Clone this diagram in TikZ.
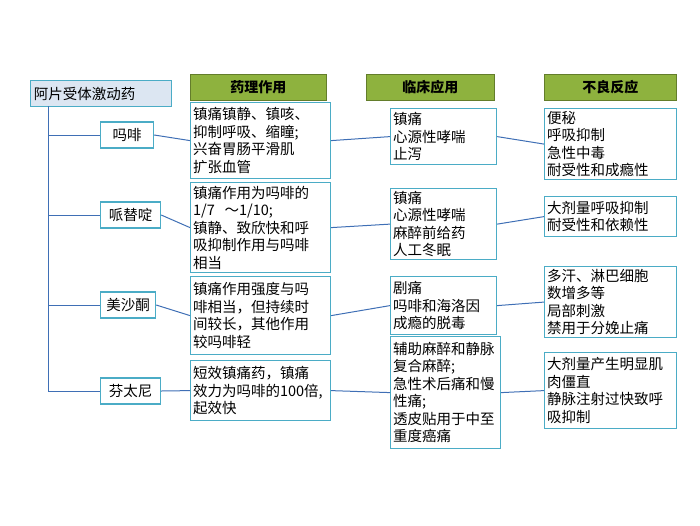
\documentclass[tikz,border=0pt]{standalone}
\usepackage{fontspec}
\newfontfamily\cjk{Noto Sans CJK SC}
\usetikzlibrary{positioning}
\definecolor{boxline}{HTML}{4BACC6}
\definecolor{linkline}{HTML}{3F6FB5}
\definecolor{headfill}{HTML}{8EB23E}
\definecolor{rootfill}{HTML}{DCE6F2}
\begin{document}
\begin{tikzpicture}[x=1pt, y=-1pt,
    every node/.style={font=\cjk\fontsize{14.5}{17.5}\selectfont},
    cellbox/.style={draw=boxline, line width=1.2pt, fill=white, anchor=north west,
        align=left, inner sep=2.5pt, minimum height=#1},
    cellbox/.default=20pt,
    head/.style={draw=headfill!70!black, fill=headfill, line width=0.8pt,
        font=\cjk\bfseries\fontsize{14}{17}\selectfont, minimum height=26pt, anchor=north west},
    drug/.style={draw=boxline, line width=1.2pt, fill=white, minimum height=26pt, anchor=west},
    link/.style={draw=linkline, line width=1pt}
]
\useasboundingbox (0,0) rectangle (700,525);

% root and headers
\node[draw=boxline, line width=1.2pt, fill=rootfill, anchor=north west,
      minimum width=140pt, minimum height=26pt, align=left, text width=134pt] (root) at (30,80) {阿片受体激动药};
\node[head, minimum width=136pt] (h1) at (190,74) {药理作用};
\node[head, minimum width=128pt] (h2) at (366,74) {临床应用};
\node[head, minimum width=132pt] (h3) at (544,74) {不良反应};

% drugs
\node[drug, minimum width=53pt] (d1) at (100,135) {吗啡};
\node[drug, minimum width=60pt] (d2) at (100,215) {哌替啶};
\node[drug, minimum width=55pt] (d3) at (100,305) {美沙酮};
\node[drug, minimum width=60pt] (d4) at (100,391) {芬太尼};

% pharmacology
\node[cellbox=76pt, text width=135pt] (p1) at (190,102) {镇痛镇静、镇咳、\\抑制呼吸、缩瞳;\\兴奋胃肠平滑肌\\扩张血管};
\node[cellbox=90pt, text width=135pt] (p2) at (190,182) {镇痛作用为吗啡的\\1/7 \ ～1/10;\\镇静、致欣快和呼\\吸抑制作用与吗啡\\相当};
\node[cellbox=78pt, text width=135pt] (p3) at (190,276) {镇痛作用强度与吗\\啡相当，但持续时\\间较长，其他作用\\较吗啡轻};
\node[cellbox=60pt, text width=135pt] (p4) at (190,360) {短效镇痛药，镇痛\\效力为吗啡的100倍,\\起效快};

% clinical use
\node[cellbox=56pt, text width=101pt] (c1) at (390,108) {镇痛\\心源性哮喘\\止泻};
\node[cellbox=68pt, text width=101pt] (c2) at (390,188) {镇痛\\心源性哮喘\\麻醉前给药\\人工冬眠};
\node[cellbox=58pt, text width=101pt] (c3) at (390,276) {剧痛\\吗啡和海洛因\\成瘾的脱毒};
\node[cellbox=112pt, text width=105pt] (c4) at (390,336) {辅助麻醉和静脉\\复合麻醉;\\急性术后痛和慢\\性痛;\\透皮贴用于中至\\重度癌痛};

% adverse effects
\node[cellbox=68pt, text width=127pt] (a1) at (544,108) {便秘\\呼吸抑制\\急性中毒\\耐受性和成瘾性};
\node[cellbox=40pt, text width=127pt] (a2) at (544,196) {大剂量呼吸抑制\\耐受性和依赖性};
\node[cellbox=70pt, text width=127pt] (a3) at (544,266) {多汗、淋巴细胞\\数增多等\\局部刺激\\禁用于分娩止痛};
\node[cellbox=76pt, text width=127pt] (a4) at (544,352) {大剂量产生明显肌\\肉僵直\\静脉注射过快致呼\\吸抑制};

% connectors
\coordinate (t0) at (48,106);
\coordinate (t4) at (48,391);
\draw[link] (t0) -- (t4);
\foreach \i in {1,...,4} {
  \draw[link] (d\i.west -| t0) -- (d\i.west);
  \draw[link] (d\i.east) -- (p\i.west);
  \draw[link] (p\i.east) -- (c\i.west);
  \draw[link] (c\i.east) -- (a\i.west);
}
\end{tikzpicture}
\end{document}
